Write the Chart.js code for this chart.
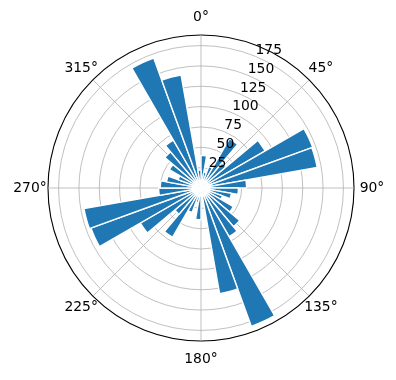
<!DOCTYPE html>
<html>
<head>
<meta charset="utf-8">
<script src="https://cdn.jsdelivr.net/npm/chart.js@4.4.1/dist/chart.umd.min.js"></script>
<style>
  html, body { margin: 0; padding: 0; background: #ffffff; }
  #wrap { width: 396px; height: 380px; }
</style>
</head>
<body>
<div id="wrap"><canvas id="windChart" width="396" height="380"></canvas></div>
<script>
// bins of 10 degrees, clockwise from north
const binStarts = [0, 10, 20, 30, 40, 50, 60, 70, 80, 90, 100, 110,
  120, 130, 140, 150, 160, 170, 180, 190, 200, 210, 220, 230,
  240, 250, 260, 270, 280, 290, 300, 310, 320, 330, 340, 350];

const counts = [40, 20, 28, 70, 40, 91, 146, 145, 56, 46, 38, 28,
  46, 62, 69, 181, 132, 12, 39, 18, 32, 70, 42, 86,
  144, 146, 52, 50, 43, 30, 45, 58, 68, 170, 141, 22];

const radialTicks = [25, 50, 75, 100, 125, 150, 175];
const radialMax = 188;

const angleTicks = [0, 45, 90, 135, 180, 225, 270, 315];
const angleLabels = ["0°", "45°", "90°", "135°", "180°", "225°", "270°", "315°"];

const FONT = '13.9px "DejaVu Sans", sans-serif';

// angle grid + labels, drawn from the radial scale's geometry
const polarDecor = {
  id: 'polarDecor',
  beforeDatasetsDraw(chart) {
    const s = chart.scales.r;
    const ctx = chart.ctx;
    ctx.save();
    ctx.strokeStyle = '#b0b0b0';
    ctx.lineWidth = 0.8;
    angleTicks.forEach(deg => {
      const a = (deg - 90) * Math.PI / 180;
      ctx.beginPath();
      ctx.moveTo(s.xCenter, s.yCenter);
      ctx.lineTo(s.xCenter + s.drawingArea * Math.cos(a), s.yCenter + s.drawingArea * Math.sin(a));
      ctx.stroke();
    });
    ctx.restore();
  },
  afterDraw(chart) {
    const s = chart.scales.r;
    const ctx = chart.ctx;
    ctx.save();
    ctx.fillStyle = '#000000';
    ctx.font = FONT;

    // theta labels
    ctx.textAlign = 'center';
    ctx.textBaseline = 'middle';
    angleTicks.forEach((deg, i) => {
      const a = (deg - 90) * Math.PI / 180;
      const pad = (deg % 90 === 0) ? 18 : 16.5;
      const d = s.drawingArea + pad;
      ctx.fillText(angleLabels[i], s.xCenter + d * Math.cos(a), s.yCenter + d * Math.sin(a));
    });

    // r labels along 22.5 degrees
    const la = (22.5 - 90) * Math.PI / 180;
    ctx.textAlign = 'left';
    ctx.textBaseline = 'bottom';
    radialTicks.forEach(v => {
      const d = s.getDistanceFromCenterForValue(v);
      ctx.fillText(String(v), s.xCenter + d * Math.cos(la), s.yCenter + d * Math.sin(la) + 1);
    });
    ctx.restore();
  }
};

new Chart(document.getElementById('windChart'), {
  type: 'polarArea',
  data: {
    labels: binStarts.map(b => b + '°'),
    datasets: [{
      data: counts,
      backgroundColor: '#1f77b4',
      borderColor: '#ffffff',
      borderWidth: 1.4
    }]
  },
  options: {
    responsive: false,
    animation: false,
    layout: { padding: { left: 48, right: 42, top: 35, bottom: 39 } },
    plugins: {
      legend: { display: false },
      tooltip: { enabled: false }
    },
    scales: {
      r: {
        min: 0,
        max: radialMax,
        startAngle: 0,
        afterBuildTicks: axis => {
          axis.ticks = [0].concat(radialTicks, [radialMax]).map(v => ({ value: v }));
        },
        ticks: { display: false },
        angleLines: { display: false },
        pointLabels: { display: false },
        grid: {
          circular: true,
          color: c => (c.tick && c.tick.value === radialMax) ? '#000000' : '#b0b0b0',
          lineWidth: c => (c.tick && c.tick.value === radialMax) ? 1.1 : 0.8
        }
      }
    }
  },
  plugins: [polarDecor]
});
</script>
</body>
</html>
